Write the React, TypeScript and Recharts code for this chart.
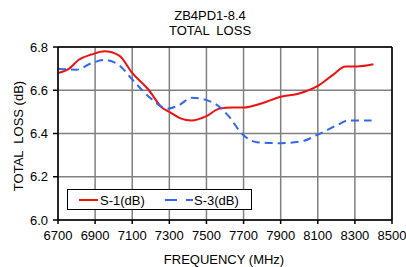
import React from 'react';
import { LineChart, Line, XAxis, YAxis, CartesianGrid, ReferenceLine } from 'recharts';

const xTicks = [6700, 6900, 7100, 7300, 7500, 7700, 7900, 8100, 8300, 8500];
const yTicks = [6.0, 6.2, 6.4, 6.6, 6.8];

const s1Freq = [6700, 6760, 6810, 6880, 6950, 7030, 7100, 7190, 7260, 7300, 7360, 7420, 7500, 7570, 7640, 7700, 7800, 7900, 8000, 8100, 8180, 8250, 8310, 8400];
const s1Vals = [6.68, 6.70, 6.74, 6.765, 6.78, 6.76, 6.68, 6.60, 6.52, 6.50, 6.47, 6.46, 6.48, 6.515, 6.52, 6.52, 6.54, 6.57, 6.585, 6.62, 6.67, 6.71, 6.71, 6.72];

const s3Freq = [6700, 6800, 6880, 6950, 7030, 7100, 7190, 7290, 7350, 7420, 7530, 7620, 7690, 7770, 7900, 8020, 8100, 8220, 8260, 8390];
const s3Vals = [6.70, 6.695, 6.725, 6.74, 6.715, 6.65, 6.57, 6.515, 6.53, 6.565, 6.545, 6.48, 6.40, 6.36, 6.355, 6.365, 6.395, 6.445, 6.46, 6.46];

const s1Data = s1Freq.map((f, i) => ({ f, v: s1Vals[i] }));
const s3Data = s3Freq.map((f, i) => ({ f, v: s3Vals[i] }));

const RED = '#ee1111';
const BLUE = '#3366ee';
const FONT = '"Liberation Sans", Arial, sans-serif';

export default function App() {
  return (
    <div style={{ position: 'absolute', left: 0, top: 0, width: 406, height: 267, background: '#fff' }}>
      <LineChart width={406} height={267} margin={{ top: 47, right: 14, bottom: 0, left: 0 }}>
        <CartesianGrid stroke="#808080" strokeWidth={1.5} horizontalValues={yTicks} verticalValues={xTicks} />
        <XAxis
          type="number"
          dataKey="f"
          domain={[6700, 8500]}
          ticks={xTicks}
          allowDataOverflow
          height={47}
          tickSize={4}
          tickMargin={7}
          axisLine={{ stroke: '#000', strokeWidth: 1.5 }}
          tickLine={{ stroke: '#000', strokeWidth: 1.5 }}
          tick={{ fill: '#000', fontSize: 13, fontFamily: FONT }}
          interval={0}
        />
        <YAxis
          type="number"
          domain={[6.0, 6.8]}
          ticks={yTicks}
          allowDataOverflow
          width={58}
          tickSize={5}
          tickMargin={5}
          tickFormatter={(v: number) => v.toFixed(1)}
          axisLine={{ stroke: '#000', strokeWidth: 1.5 }}
          tickLine={{ stroke: '#000', strokeWidth: 1.5 }}
          tick={{ fill: '#000', fontSize: 13, fontFamily: FONT }}
          interval={0}
        />
        <ReferenceLine y={6.8} stroke="#000" strokeWidth={1.5} />
        <ReferenceLine x={8500} stroke="#000" strokeWidth={1.5} />
        <Line data={s1Data} dataKey="v" type="monotone" stroke={RED} strokeWidth={2} dot={false} isAnimationActive={false} name="S-1(dB)" />
        <Line data={s3Data} dataKey="v" type="monotone" stroke={BLUE} strokeWidth={2} strokeDasharray="8 5" dot={false} isAnimationActive={false} name="S-3(dB)" />
      </LineChart>
      <svg width={406} height={267} style={{ position: 'absolute', left: 0, top: 0, pointerEvents: 'none' }}>
        <text x={210} y={20} textAnchor="middle" fontSize={13} fontFamily={FONT} fill="#000">ZB4PD1-8.4</text>
        <text x={210} y={35} textAnchor="middle" fontSize={13} fontFamily={FONT} fill="#000" style={{ whiteSpace: 'pre' }}>TOTAL  LOSS</text>
        <text x={224} y={264} textAnchor="middle" fontSize={13} fontFamily={FONT} fill="#000">FREQUENCY (MHz)</text>
        <text x={23} y={136} textAnchor="middle" fontSize={13} fontFamily={FONT} fill="#000" transform="rotate(-90 23 136)" style={{ whiteSpace: 'pre' }}>TOTAL  LOSS (dB)</text>
        <g transform="translate(67,189)">
          <rect x={0.5} y={0.5} width={184} height={20} fill="#fff" stroke="#000" strokeWidth={1} />
          <line x1={12} x2={31} y1={11} y2={11} stroke={RED} strokeWidth={2} />
          <text x={33} y={15.5} fontSize={13} fill="#000" fontFamily={FONT}>S-1(dB)</text>
          <line x1={98} x2={126} y1={11} y2={11} stroke={BLUE} strokeWidth={2} strokeDasharray="12 9" />
          <text x={127} y={15.5} fontSize={13} fill="#000" fontFamily={FONT}>S-3(dB)</text>
        </g>
      </svg>
    </div>
  );
}
